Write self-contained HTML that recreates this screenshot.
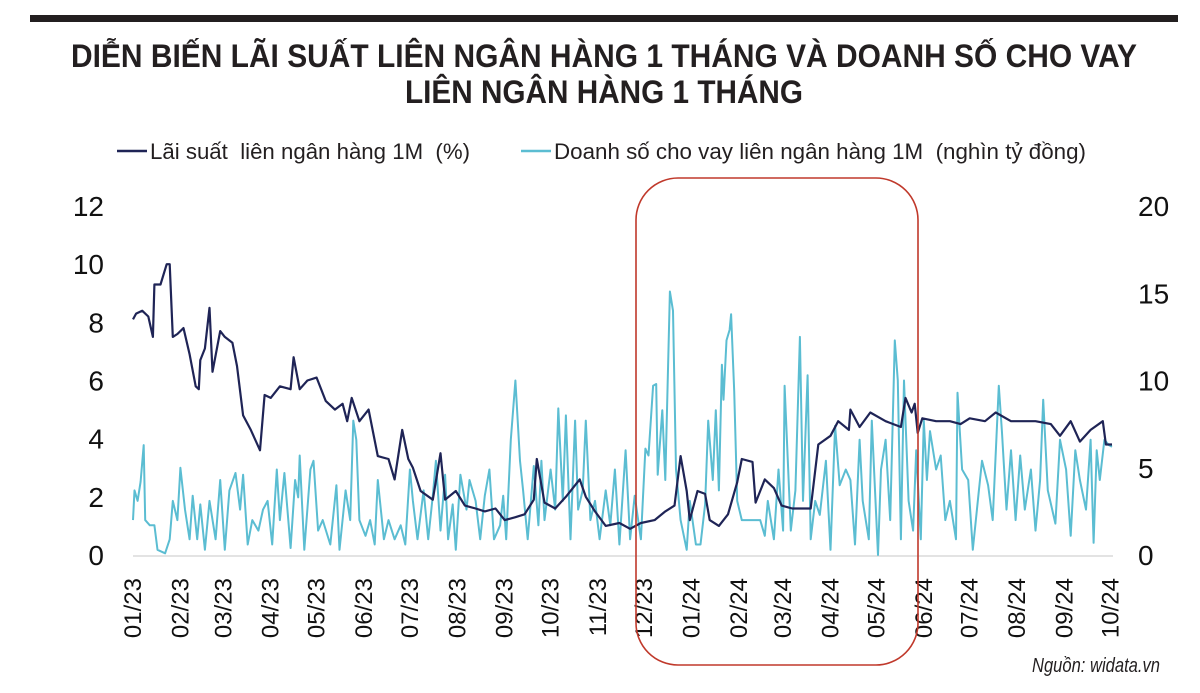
<!DOCTYPE html>
<html><head><meta charset="utf-8"><style>
html,body{margin:0;padding:0;background:#fff;}
svg{display:block;font-family:"Liberation Sans",sans-serif;}
</style></head><body>
<svg id="chart" width="1200" height="693" viewBox="0 0 1200 693">
<rect x="30" y="15" width="1148" height="7" fill="#231f20"/>
<text x="604" y="67" text-anchor="middle" font-size="32" font-weight="bold" fill="#231f20" textLength="1066" lengthAdjust="spacingAndGlyphs">DIỄN BIẾN LÃI SUẤT LIÊN NGÂN HÀNG 1 THÁNG VÀ DOANH SỐ CHO VAY</text>
<text x="604" y="103" text-anchor="middle" font-size="32" font-weight="bold" fill="#231f20" textLength="398" lengthAdjust="spacingAndGlyphs">LIÊN NGÂN HÀNG 1 THÁNG</text>
<g>
<line x1="117" y1="151" x2="147" y2="151" stroke="#1f2456" stroke-width="2.5"/>
<text x="150" y="159" font-size="22" fill="#231f20" style="white-space:pre" textLength="320" lengthAdjust="spacingAndGlyphs">Lãi suất  liên ngân hàng 1M  (%)</text>
<line x1="521" y1="151" x2="551" y2="151" stroke="#5bbdd2" stroke-width="2.5"/>
<text x="554" y="159" font-size="22" fill="#231f20" style="white-space:pre" textLength="532" lengthAdjust="spacingAndGlyphs">Doanh số cho vay liên ngân hàng 1M  (nghìn tỷ đồng)</text>
</g>
<g id="plot"></g>
<rect x="636" y="178" width="282" height="487" rx="42" ry="42" fill="none" stroke="#c0392b" stroke-width="1.6"/>
<text x="1160" y="672" text-anchor="end" font-size="20" font-style="italic" fill="#231f20" textLength="128" lengthAdjust="spacingAndGlyphs">Nguồn: widata.vn</text>
</svg>
<script>
const monthLabels=["01/23","02/23","03/23","04/23","05/23","06/23","07/23","08/23","09/23","10/23","11/23","12/23","01/24","02/24","03/24","04/24","05/24","06/24","07/24","08/24","09/24","10/24"];
const leftTicks=[0,2,4,6,8,10,12];
const rightTicks=[0,5,10,15,20];
const rateDays=[0,2,6,10,13,14,18,22,24,26,29,33,37,41,43,44,47,50,52,57,60,65,68,72,77,83,86,90,96,103,105,109,114,120,126,132,137,140,143,148,154,160,167,171,176,180,183,188,196,201,204,211,217,224,230,237,243,250,256,262,264,269,276,283,292,296,302,309,318,325,332,341,348,354,358,362,364,369,374,377,383,389,395,398,405,407,413,419,424,431,443,448,456,461,468,469,475,482,492,502,505,509,511,513,516,525,534,541,547,557,564,574,583,590,600,606,613,619,626,634,636,640];
const rateValues=[8.1,8.3,8.4,8.2,7.5,9.3,9.3,10.0,10.0,7.5,7.6,7.8,6.9,5.8,5.7,6.7,7.1,8.5,6.3,7.7,7.5,7.3,6.5,4.8,4.3,3.6,5.5,5.4,5.8,5.7,6.8,5.7,6.0,6.1,5.3,5.0,5.2,4.6,5.4,4.6,5.0,3.4,3.3,2.6,4.3,3.3,3.0,2.2,1.9,3.5,1.9,2.2,1.7,1.6,1.5,1.6,1.2,1.3,1.4,1.9,3.3,1.8,1.6,2.0,2.6,2.0,1.5,1.0,1.1,0.9,1.1,1.2,1.5,1.7,3.4,2.2,1.2,2.2,2.1,1.2,1.0,1.4,2.5,3.3,3.2,1.8,2.6,2.3,1.7,1.6,1.6,3.8,4.1,4.6,4.3,5.0,4.4,4.9,4.6,4.4,5.4,4.9,5.2,4.2,4.7,4.6,4.6,4.5,4.7,4.6,4.9,4.6,4.6,4.6,4.5,4.1,4.6,3.9,4.3,4.6,3.8,3.8];
const volDays=[0,1,3,5,7,8,11,14,16,21,24,26,29,31,34,37,39,42,44,47,50,54,57,60,63,67,70,72,75,78,82,85,88,91,94,96,99,103,106,108,109,112,116,118,121,124,129,133,135,139,142,144,146,148,152,155,158,160,164,167,171,175,178,181,183,186,190,193,196,198,201,204,206,209,211,214,218,220,224,227,230,233,236,240,242,244,247,250,253,255,258,262,265,267,269,273,276,278,281,283,286,289,291,294,296,299,302,305,309,312,315,318,322,325,328,332,335,337,340,342,343,346,348,351,353,355,358,362,364,368,371,374,376,379,381,383,385,386,388,390,391,393,395,398,410,413,415,419,422,425,426,430,433,436,438,441,443,446,449,453,456,459,462,466,469,472,475,477,481,483,487,489,492,495,498,500,502,504,507,510,512,515,517,519,521,525,528,531,534,538,539,542,546,549,553,555,559,562,566,568,571,574,577,580,583,587,590,593,595,598,603,606,610,613,616,619,623,626,628,630,632,635,638,640];
const volValues=[2.0,3.7,3.1,4.2,6.3,2.0,1.7,1.7,0.3,0.1,0.9,3.1,2.0,5.0,2.6,0.9,3.4,0.9,2.9,0.3,3.1,0.9,4.3,0.3,3.7,4.7,2.6,4.6,0.6,2.0,1.4,2.6,3.1,0.6,4.9,2.0,4.7,0.4,4.3,3.3,5.7,0.3,4.9,5.4,1.4,2.0,0.6,4.0,0.3,3.7,2.0,7.7,6.6,2.0,1.1,2.0,0.6,4.3,0.9,2.0,0.9,1.7,0.6,4.9,3.1,0.9,3.7,0.9,3.4,5.4,1.4,4.6,0.9,2.9,0.3,4.6,2.6,4.3,3.1,0.9,3.4,4.9,0.9,1.7,3.4,0.9,6.6,10.0,5.4,3.7,0.9,5.1,1.7,5.4,2.0,4.9,2.6,8.4,3.1,8.0,0.9,7.7,2.6,3.7,7.7,2.0,3.1,0.9,3.7,1.7,4.9,0.6,6.0,0.9,3.4,0.9,6.1,5.7,9.7,9.8,4.6,8.3,4.3,15.1,14.0,4.9,2.0,0.3,3.1,0.6,0.6,2.9,7.7,4.3,8.3,3.7,10.9,8.9,12.3,12.9,13.8,9.4,3.1,2.0,2.0,1.1,3.1,0.9,4.9,1.4,9.7,1.4,3.7,12.5,3.1,10.3,0.9,3.1,2.3,5.4,0.3,7.4,4.0,4.9,4.3,0.6,6.6,3.1,0.9,7.7,0,4.9,6.6,2.0,12.3,10.0,0.9,10.0,3.1,1.4,6.0,0.9,7.7,4.3,7.1,4.9,5.7,2.0,3.1,0.9,9.3,4.9,4.3,0.3,3.7,5.4,4.0,2.0,9.7,7.1,2.6,6.0,2.0,5.7,2.6,4.9,1.4,4.3,8.9,3.7,1.8,6.6,4.9,1.1,6.0,4.3,2.6,6.6,0.7,6.0,4.3,6.6,6.3,6.2];

const NS="http://www.w3.org/2000/svg";
const plot=document.getElementById('plot');
const X0=133,X1=1112,DAYMAX=640,Y0=555,Y1=206;
const xDay=d=>X0+(X1-X0)*d/DAYMAX;
const yLeft=v=>Y0-(Y0-Y1)*v/12;
const yRight=v=>Y0-(Y0-Y1)*v/20;
const monthStartDay=i=>{const d=new Date(Date.UTC(2023,i,1));return (d-Date.UTC(2023,0,1))/86400000;};
function mk(tag,attrs){const e=document.createElementNS(NS,tag);for(const k in attrs)e.setAttribute(k,attrs[k]);plot.appendChild(e);return e;}

const base=mk('line',{x1:X0,y1:Y0+1,x2:X1+1,y2:Y0+1,stroke:'#e3e3e3','stroke-width':2});



leftTicks.forEach(v=>{
  const t=mk('text',{x:104,y:yLeft(v)+10,'text-anchor':'end','font-size':28,fill:'#111'});
  t.textContent=v;
  
  
});
rightTicks.forEach(v=>{
  const t=mk('text',{x:1138,y:yRight(v)+10,'font-size':28,fill:'#111'});
  t.textContent=v;
  
  
});
monthLabels.forEach((m,i)=>{
  const x=xDay(monthStartDay(i))+8;
  const t=mk('text',{x:x,y:578,'text-anchor':'end','font-size':24,fill:'#111',transform:`rotate(-90 ${x} 578)`});
  t.textContent=m;
  
  
});

const vp=mk('polyline',{points:volDays.map((d,i)=>xDay(d).toFixed(1)+','+yRight(volValues[i]).toFixed(1)).join(' '),fill:'none',stroke:'#5bbdd2','stroke-width':2,'stroke-linejoin':'round'});


const rp=mk('polyline',{points:rateDays.map((d,i)=>xDay(d).toFixed(1)+','+yLeft(rateValues[i]).toFixed(1)).join(' '),fill:'none',stroke:'#1f2456','stroke-width':2.2,'stroke-linejoin':'round'});


</script>
</body></html>
